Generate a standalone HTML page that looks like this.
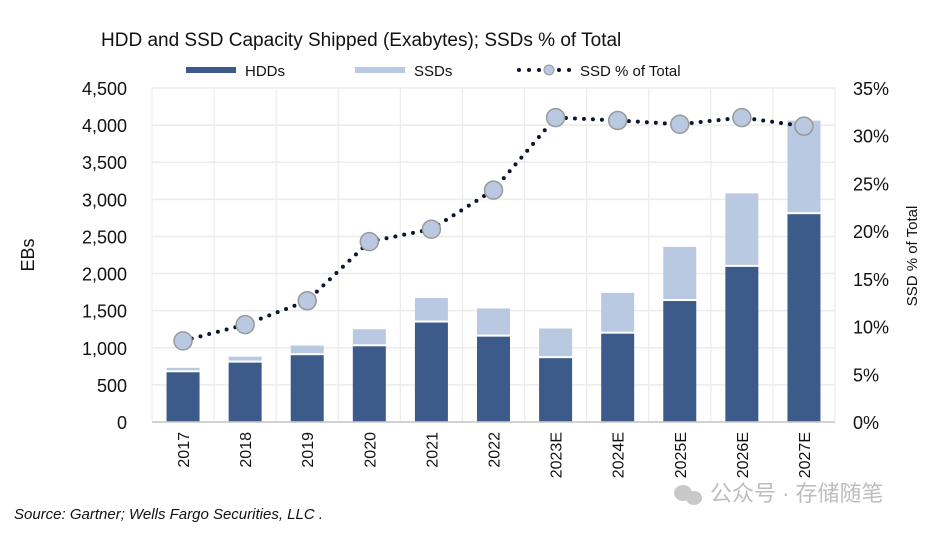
<!DOCTYPE html>
<html><head><meta charset="utf-8"><style>
body{margin:0;background:#fff;}
svg text{font-family:"Liberation Sans",Arial,sans-serif;fill:#111;}
</style></head><body>
<svg width="950" height="532" viewBox="0 0 950 532" id="chart">
<text x="101" y="46" font-size="19">HDD and SSD Capacity Shipped (Exabytes); SSDs % of Total</text>
<g>
<rect x="186" y="67" width="50" height="6" fill="#3d5b8a"/>
<text x="245" y="76" font-size="15">HDDs</text>
<rect x="355" y="67" width="50" height="6" fill="#b9c9e2"/>
<text x="414" y="76" font-size="15">SSDs</text>
<g fill="#0c1530"><circle cx="519" cy="70" r="2"/><circle cx="529" cy="70" r="2"/><circle cx="539" cy="70" r="2"/><circle cx="559" cy="70" r="2"/><circle cx="569" cy="70" r="2"/></g>
<circle cx="549" cy="70" r="5" fill="#b9c9e2" stroke="#999"/>
<text x="580" y="76" font-size="15">SSD % of Total</text>
</g>
<g id="grid"></g><g id="bars"></g><g id="line"></g><g id="axes"></g>
<text transform="translate(34,255) rotate(-90)" font-size="18" text-anchor="middle">EBs</text>
<text transform="translate(917,256) rotate(-90)" font-size="15" text-anchor="middle">SSD % of Total</text>
<text x="14" y="519" font-size="15" font-style="italic">Source: Gartner; Wells Fargo Securities, LLC .</text>
<g>
<ellipse cx="683" cy="493" rx="9" ry="8" fill="#c8c8c8"/><ellipse cx="694" cy="498" rx="8" ry="7" fill="#c8c8c8"/>
<text x="710" y="501" font-size="22" style="fill:#bdbdbd;font-family:'Liberation Sans','Noto Sans CJK SC',sans-serif">公众号 · 存储随笔</text>
</g>
</svg>
<script>
const categories=["2017","2018","2019","2020","2021","2022","2023E","2024E","2025E","2026E","2027E"];
const hdd=[670,800,900,1020,1340,1150,860,1190,1630,2090,2800];
const total=[730,880,1030,1250,1670,1530,1260,1740,2360,3080,4060];
const ssdPct=[8.5,10.2,12.7,18.9,20.2,24.3,31.9,31.6,31.2,31.9,31.0];
const leftTicks=[0,500,1000,1500,2000,2500,3000,3500,4000,4500];
const rightTicks=[0,5,10,15,20,25,30,35];
const NS="http://www.w3.org/2000/svg";
const L=152,R=835,T=88,B=422,bw=(R-L)/categories.length;
const y=v=>B-(v/4500)*(B-T), y2=p=>B-(p/35)*(B-T), xc=i=>L+bw*(i+0.5);
function mk(tag,attrs,parent){const e=document.createElementNS(NS,tag);for(const k in attrs)e.setAttribute(k,attrs[k]);document.getElementById(parent).appendChild(e);return e;}
const g='grid';
leftTicks.forEach((t,i)=>{const ln=mk('line',{x1:L,x2:R,y1:y(t),y2:y(t),stroke:i===0?'#ccc':'#ececec','stroke-width':1.5},g);


const tx=mk('text',{x:127,y:y(t)+7,'font-size':18,'text-anchor':'end'},'axes');tx.textContent=t.toLocaleString('en-US');

});
rightTicks.forEach(t=>{const tx=mk('text',{x:853,y:y2(t)+7,'font-size':18},'axes');tx.textContent=t+'%';

});
for(let i=0;i<=categories.length;i++){const ln=mk('line',{x1:L+bw*i,x2:L+bw*i,y1:T,y2:B,stroke:'#ececec','stroke-width':1.2},g);

}
mk('line',{x1:L,x2:R,y1:B,y2:B,stroke:'#ccc','stroke-width':1.5},'axes');
categories.forEach((c,i)=>{const x=xc(i),w=33;
const h=mk('rect',{x:x-w/2,y:y(hdd[i]),width:w,height:B-y(hdd[i]),fill:'#3d5b8a'},'bars');


const s=mk('rect',{x:x-w/2,y:y(total[i]),width:w,height:Math.max(0,y(hdd[i])-y(total[i])-2),fill:'#b9c9e2'},'bars');


const tx=mk('text',{transform:`translate(${x+6},${B+10}) rotate(-90)`,'font-size':16,'text-anchor':'end'},'axes');tx.textContent=c;

});
const pts=ssdPct.map((p,i)=>[xc(i),y2(p)]);
const pl=mk('polyline',{points:pts.map(p=>p.join(',')).join(' '),fill:'none',stroke:'#0c1530','stroke-width':4,'stroke-dasharray':'0 9','stroke-linecap':'round'},'line');


pts.forEach((p,i)=>{const c=mk('circle',{cx:p[0],cy:p[1],r:9,fill:'#b9c9e2',stroke:'#999','stroke-width':1.5},'line');

});
</script>
</body></html>
